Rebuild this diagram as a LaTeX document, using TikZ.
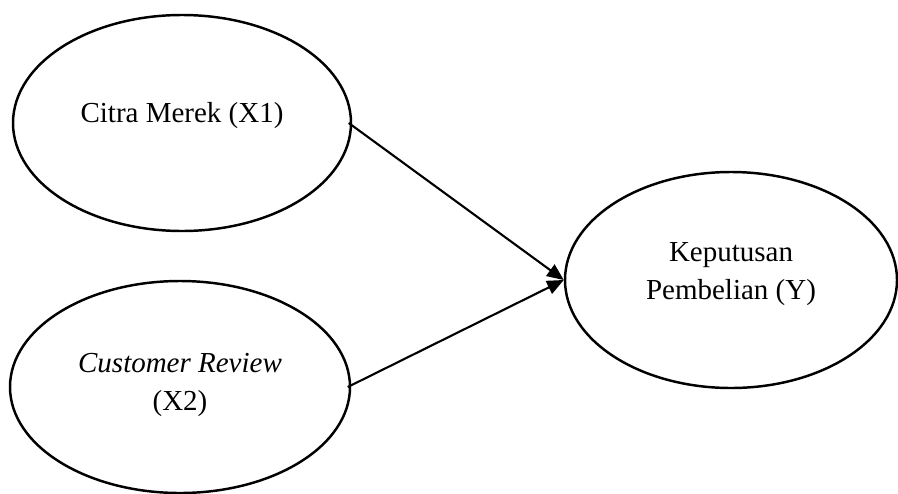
\documentclass[tikz,border=0pt]{standalone}
\usepackage{fontspec}
\setmainfont{Liberation Serif}
\usepackage{tikz}
\usetikzlibrary{positioning,calc}
\usetikzlibrary{arrows.meta,shapes.geometric}
\tikzset{
	var/.style={ellipse,draw=black,line width=1.4pt,inner sep=0pt},
	lbl/.style={align=center,inner sep=0pt,font=\fontsize{16.5}{21.6}\selectfont},
	link/.style={draw=black,line width=1.2pt,-{Triangle[length=9.5pt,width=8pt]}},
}

\begin{document}
\begin{tikzpicture}
	\useasboundingbox (0,0) rectangle (17.96,9.86);
	\node[var,minimum width=6.76cm,minimum height=4.32cm] (cm) at (3.64,7.40) {};
	\node[var,minimum width=6.80cm,minimum height=4.24cm] (cr) at (3.60,2.12) {};
	\node[var,minimum width=6.64cm,minimum height=4.32cm] (kp) at (14.62,4.26) {};
	\node[lbl] (cmtext) at ($(cm)+(0,0.14)$) {Citra Merek (X1)};
	\node[lbl] (crtext) at ($(cr)+(0,0.05)$) {\textit{Customer Review}\\(X2)};
	\node[lbl] (kptext) at ($(kp)+(0,0.12)$) {Keputusan\\Pembelian (Y)};
	\foreach \s in {cm,cr}
	\draw[link] ($(\s.east)+(-0.07,0)$)--(kp.west);
\end{tikzpicture}
\end{document}
